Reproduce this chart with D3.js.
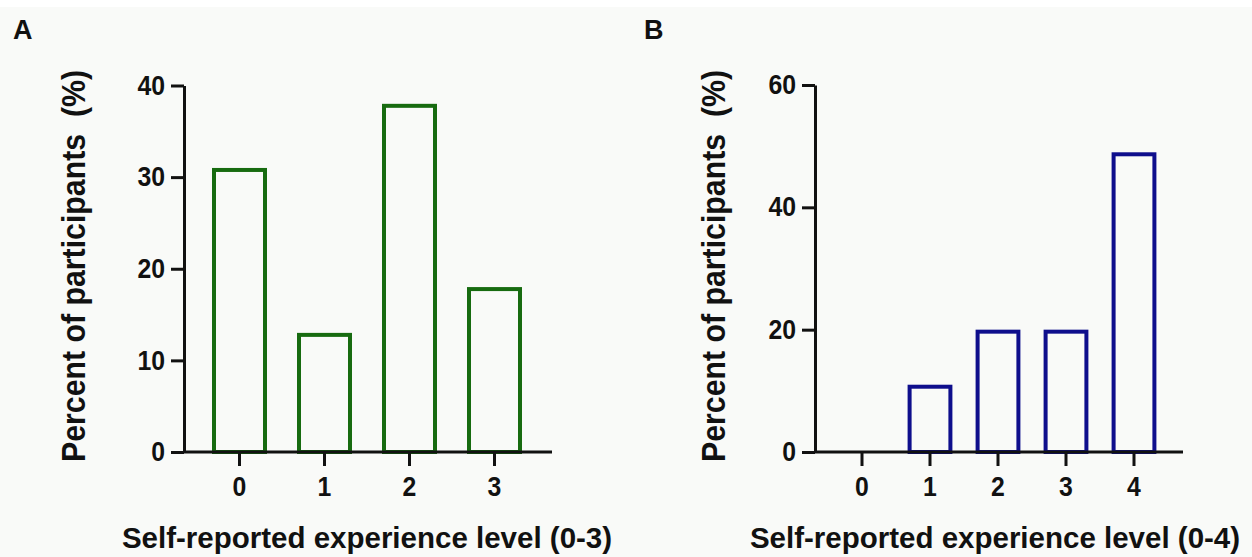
<!DOCTYPE html>
<html>
<head>
<meta charset="utf-8">
<script src="https://cdn.jsdelivr.net/npm/d3@7"></script>
<style>
    body { margin: 0; background: #fff; }
    svg { display: block; }
    text { font-family: "Liberation Sans", Arial, sans-serif; font-weight: bold; fill: #111; }
</style>
</head>
<body>
<div id="chart"></div>
<script>
// values (percent of participants per level)
const levelsA = ['0', '1', '2', '3'];
const percentA = [31, 13, 38, 18];
const ticksA = [0, 10, 20, 30, 40];

const levelsB = ['0', '1', '2', '3', '4'];
const percentB = [0, 11, 20, 20, 49];
const ticksB = [0, 20, 40, 60];

const width = 1252;
const height = 557;

const svg = d3.select('#chart')
    .append('svg')
    .attr('width', width)
    .attr('height', height);

// off-white figure background below a thin white strip
svg.append('rect')
    .attr('x', 0)
    .attr('y', 7)
    .attr('width', width)
    .attr('height', height - 7)
    .style('fill', '#f9faf8');

function drawPanel(opts) {
    const g = svg.append('g');
    const barStroke = 4;

    const x = d3.scaleBand()
        .domain(opts.levels)
        .range([opts.left + 13, opts.right - 15])
        .paddingInner(0.4)
        .paddingOuter(0.2);

    const y = d3.scaleLinear()
        .domain([0, d3.max(opts.ticks)])
        .range([opts.bottom, opts.top]);

    // hollow bars, border drawn inside the value
    g.selectAll('rect.bar')
        .data(opts.values.map((v, i) => ({ level: opts.levels[i], value: v })).filter(d => d.value > 0))
        .enter()
        .append('rect')
        .attr('class', 'bar')
        .attr('x', d => x(d.level))
        .attr('y', d => y(d.value) + barStroke / 2)
        .attr('width', x.bandwidth())
        .attr('height', d => y(0) - y(d.value) - barStroke / 2)
        .style('fill', 'none')
        .style('stroke', opts.color)
        .style('stroke-width', barStroke);

    // y axis
    const yAxis = g.append('g')
        .attr('transform', `translate(${opts.left},0)`)
        .call(d3.axisLeft(y).tickValues(opts.ticks).tickSize(13).tickSizeOuter(0).tickPadding(6));

    // x axis: line runs from the y axis to the right end
    g.append('line')
        .attr('x1', opts.left)
        .attr('x2', opts.right)
        .attr('y1', y(0))
        .attr('y2', y(0))
        .style('stroke', '#111')
        .style('stroke-width', 3);

    const xAxis = g.append('g')
        .attr('transform', `translate(0,${y(0)})`)
        .call(d3.axisBottom(x).tickSize(14).tickPadding(11));
    xAxis.select('.domain').remove();

    [yAxis, xAxis].forEach(ax => {
        ax.selectAll('.domain, .tick line')
            .style('stroke', '#111')
            .style('stroke-width', 3);
        ax.selectAll('.tick text')
            .style('font-size', '27px')
            .style('font-family', '"Liberation Sans", Arial, sans-serif')
            .style('font-weight', 'bold')
            .style('fill', '#111')
            .attr('textLength', function() { return this.textContent.length * 13.8; })
            .attr('lengthAdjust', 'spacingAndGlyphs');
    });

    // axis titles (slightly condensed lettering as in the figure)
    g.append('text')
        .attr('transform', `translate(${opts.yTitleX},266) rotate(-90)`)
        .attr('text-anchor', 'middle')
        .attr('textLength', 392)
        .attr('lengthAdjust', 'spacingAndGlyphs')
        .style('font-size', '33px')
        .style('white-space', 'pre')
        .text('Percent of participants  (%)');

    g.append('text')
        .attr('x', opts.xTitleX)
        .attr('y', 548)
        .attr('text-anchor', 'middle')
        .style('font-size', '29.5px')
        .text(opts.xTitle);

    // panel letter
    g.append('text')
        .attr('x', opts.labelX)
        .attr('y', 39)
        .style('font-size', '27px')
        .text(opts.label);
}

drawPanel({
    label: 'A', labelX: 13,
    levels: levelsA, values: percentA, ticks: ticksA,
    color: '#176b10',
    left: 184, right: 552, top: 85.5, bottom: 452,
    yTitleX: 85, xTitleX: 367,
    xTitle: 'Self-reported experience level (0-3)'
});

drawPanel({
    label: 'B', labelX: 644,
    levels: levelsB, values: percentB, ticks: ticksB,
    color: '#0e0e8c',
    left: 815, right: 1183, top: 85, bottom: 452,
    yTitleX: 725, xTitleX: 995,
    xTitle: 'Self-reported experience level (0-4)'
});
</script>
</body>
</html>
